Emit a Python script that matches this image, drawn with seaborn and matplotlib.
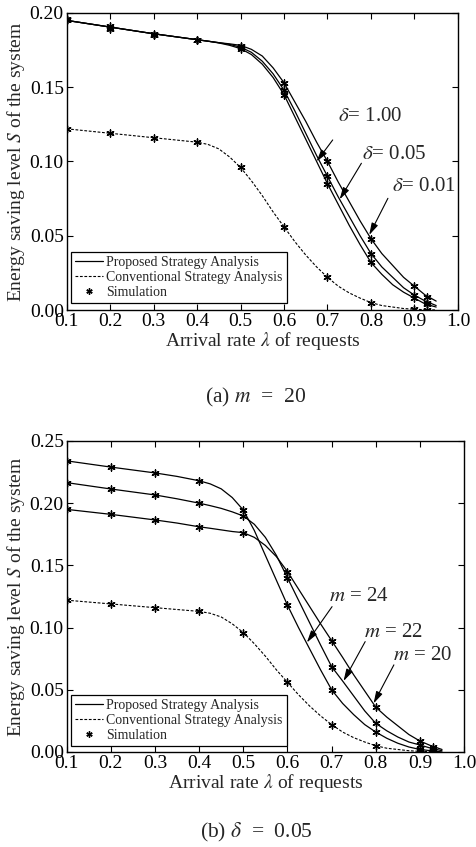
import numpy as np
import pandas as pd
import seaborn as sns
import matplotlib.pyplot as plt
from matplotlib.lines import Line2D

x_curve = [0.1, 0.2, 0.3, 0.35, 0.4, 0.425, 0.45, 0.475, 0.5, 0.525, 0.55, 0.575, 0.6, 0.625,
           0.65, 0.675, 0.7, 0.725, 0.75, 0.775, 0.8, 0.825, 0.85, 0.875, 0.9, 0.925, 0.95]
x_sim = [0.1, 0.2, 0.3, 0.4, 0.5, 0.6, 0.7, 0.8, 0.9, 0.93]

# conventional strategy (same in both panels)
conv_curve = [0.122, 0.119, 0.116, 0.1145, 0.113, 0.1115, 0.1085, 0.103, 0.096, 0.087, 0.077, 0.066, 0.056, 0.046,
              0.037, 0.029, 0.022, 0.016, 0.0115, 0.008, 0.005, 0.003, 0.002, 0.001, 0.0005, 0.0002, 0.0]
conv_sim = [0.122, 0.119, 0.116, 0.113, 0.096, 0.056, 0.022, 0.005, 0.0005, 0.0]

# (a) m = 20, different delta
delta_curves = {
    "0.01": [0.195, 0.1905, 0.186, 0.184, 0.182, 0.181, 0.180, 0.1792, 0.1782, 0.1755, 0.171, 0.163, 0.153, 0.140,
             0.127, 0.113, 0.100, 0.086, 0.073, 0.060, 0.048, 0.038, 0.030, 0.022, 0.016, 0.010, 0.006],
    "0.05": [0.195, 0.1905, 0.186, 0.184, 0.182, 0.181, 0.180, 0.1788, 0.177, 0.1735, 0.1675, 0.159, 0.148, 0.134,
             0.119, 0.104, 0.090, 0.076, 0.063, 0.050, 0.038, 0.029, 0.022, 0.015, 0.010, 0.006, 0.003],
    "1.00": [0.195, 0.1905, 0.186, 0.184, 0.182, 0.181, 0.1798, 0.1782, 0.176, 0.172, 0.1655, 0.1565, 0.145, 0.130,
             0.115, 0.100, 0.085, 0.071, 0.057, 0.044, 0.032, 0.024, 0.017, 0.012, 0.008, 0.004, 0.002],
}
delta_sims = {
    "0.01": [0.195, 0.191, 0.186, 0.182, 0.178, 0.153, 0.100, 0.048, 0.016, 0.009],
    "0.05": [0.195, 0.190, 0.185, 0.182, 0.177, 0.148, 0.090, 0.038, 0.010, 0.005],
    "1.00": [0.196, 0.189, 0.185, 0.182, 0.176, 0.145, 0.085, 0.032, 0.008, 0.004],
}

# (b) delta = 0.05, different m
m_curves = {
    "24": [0.234, 0.229, 0.2243, 0.2215, 0.218, 0.2155, 0.2115, 0.2045, 0.1945, 0.178, 0.158, 0.138, 0.118, 0.100,
           0.083, 0.066, 0.050, 0.039, 0.030, 0.022, 0.016, 0.011, 0.007, 0.004, 0.002, 0.001, 0.0],
    "22": [0.2165, 0.2114, 0.2066, 0.2035, 0.200, 0.198, 0.1958, 0.193, 0.1897, 0.183, 0.1725, 0.158, 0.140, 0.122,
           0.104, 0.086, 0.0686, 0.057, 0.045, 0.033, 0.023, 0.017, 0.012, 0.008, 0.0056, 0.003, 0.001],
    "20": [0.195, 0.191, 0.1865, 0.184, 0.181, 0.1798, 0.1785, 0.1772, 0.1763, 0.1725, 0.166, 0.157, 0.145, 0.131,
           0.117, 0.103, 0.0895, 0.076, 0.062, 0.049, 0.036, 0.028, 0.021, 0.014, 0.0088, 0.005, 0.002],
}
m_sims = {
    "24": [0.234, 0.229, 0.2245, 0.218, 0.1945, 0.118, 0.050, 0.016, 0.002, 0.001],
    "22": [0.2165, 0.2114, 0.2066, 0.1999, 0.190, 0.140, 0.0686, 0.023, 0.0056, 0.002],
    "20": [0.195, 0.191, 0.1865, 0.181, 0.1763, 0.145, 0.0895, 0.036, 0.0088, 0.004],
}

sns.set_theme(style="ticks")
plt.rcParams['font.family'] = ['Liberation Serif', 'DejaVu Serif']
plt.rcParams['mathtext.fontset'] = 'stix'
plt.rcParams['axes.linewidth'] = 1.0

asterisk = (6, 2, 0)
dash = (0, (2.5, 1.5))


def long_df(xs, series):
    rows = []
    for key, vals in series.items():
        for x, y in zip(xs, vals):
            rows.append({"x": x, "y": y, "s": key})
    return pd.DataFrame(rows)


def draw_panel(ax, curves, sims, ymax, notes):
    dfc = long_df(x_curve, curves)
    sns.lineplot(data=dfc, x="x", y="y", units="s", estimator=None, color="black",
                 lw=0.9, ax=ax, legend=False)
    conv = pd.DataFrame({"x": x_curve, "y": conv_curve})
    sns.lineplot(data=conv, x="x", y="y", color="black", lw=0.8, ax=ax,
                 linestyle=dash, legend=False)
    dfs = long_df(x_sim, sims)
    dfs = pd.concat([dfs, pd.DataFrame({"x": x_sim, "y": conv_sim, "s": "conv"})])
    sns.scatterplot(data=dfs, x="x", y="y", marker=asterisk, s=26, color="black",
                    linewidth=1.0, edgecolor="black", ax=ax, legend=False, zorder=5)

    # labels with arrows pointing at the curves
    for text, tpos, start, tip in notes:
        ax.text(tpos[0], tpos[1], text, fontsize=15, ha="left", va="center")
        ax.annotate("", xy=tip, xytext=start,
                    arrowprops=dict(arrowstyle="-|>,head_length=0.6,head_width=0.17",
                                    color="black", lw=0.8, shrinkA=0, shrinkB=0))

    ax.set_xlim(0.1, 1.0)
    ax.set_ylim(0, ymax)
    xt = np.arange(0.1, 1.01, 0.1)
    ax.set_xticks(xt)
    ax.set_xticklabels([f"{v:.1f}" for v in xt])
    yt = np.arange(0, ymax + 0.001, 0.05)
    ax.set_yticks(yt)
    ax.set_yticklabels([f"{v:.2f}" for v in yt])
    ax.tick_params(direction="in", top=True, right=True, length=4, width=0.8,
                   labelsize=14, pad=2, colors="black")
    ax.set_xlabel(r"Arrival rate $\lambda$ of requests", fontsize=14, labelpad=0)
    ax.set_ylabel(r"Energy saving level $S$ of the system", fontsize=14, labelpad=2)
    for sp in ax.spines.values():
        sp.set_color("black")

    handles = [Line2D([], [], color="black", lw=0.9),
               Line2D([], [], color="black", lw=0.8, linestyle=dash),
               Line2D([], [], color="black", lw=0, marker=asterisk, markersize=4.5,
                      markeredgewidth=1.0)]
    top = 58 / 297 if ymax == 0.20 else 57 / 311
    leg = ax.legend(handles, ["Proposed Strategy Analysis", "Conventional Strategy Analysis",
                              "Simulation"],
                    loc="upper left", bbox_to_anchor=(0.011, top),
                    borderaxespad=0, fontsize=10, fancybox=False, framealpha=1,
                    edgecolor="black", handlelength=2.0, handletextpad=0.25,
                    labelspacing=0.15, borderpad=0.3)
    leg.get_frame().set_linewidth(0.9)


fig = plt.figure(figsize=(4.76, 8.47), dpi=100)
ax1 = fig.add_axes([0.140, 0.634, 0.822, 0.3507])
ax2 = fig.add_axes([0.140, 0.1122, 0.835, 0.3672])

notes_a = [
    (r"$\delta$= 1.00", (0.725, 0.130), (0.712, 0.1145), (0.675, 0.100)),
    (r"$\delta$= 0.05", (0.780, 0.105), (0.778, 0.0988), (0.728, 0.0745)),
    (r"$\delta$= 0.01", (0.849, 0.083), (0.839, 0.0752), (0.796, 0.0505)),
]
notes_b = [
    (r"$m$ = 24", (0.695, 0.125), (0.701, 0.1168), (0.644, 0.088)),
    (r"$m$ = 22", (0.774, 0.0957), (0.776, 0.0887), (0.727, 0.057)),
    (r"$m$ = 20", (0.839, 0.0772), (0.841, 0.070), (0.795, 0.039)),
]

draw_panel(ax1, delta_curves, delta_sims, 0.20, notes_a)
draw_panel(ax2, m_curves, m_sims, 0.25, notes_b)

fig.text(0.536, 0.531, r"(a) $m$  =  20", fontsize=15.5, ha="center", va="center")
fig.text(0.538, 0.0177, r"(b) $\delta$  =  0.05", fontsize=15.5, ha="center", va="center")

fig.savefig("out.png", dpi=100)
